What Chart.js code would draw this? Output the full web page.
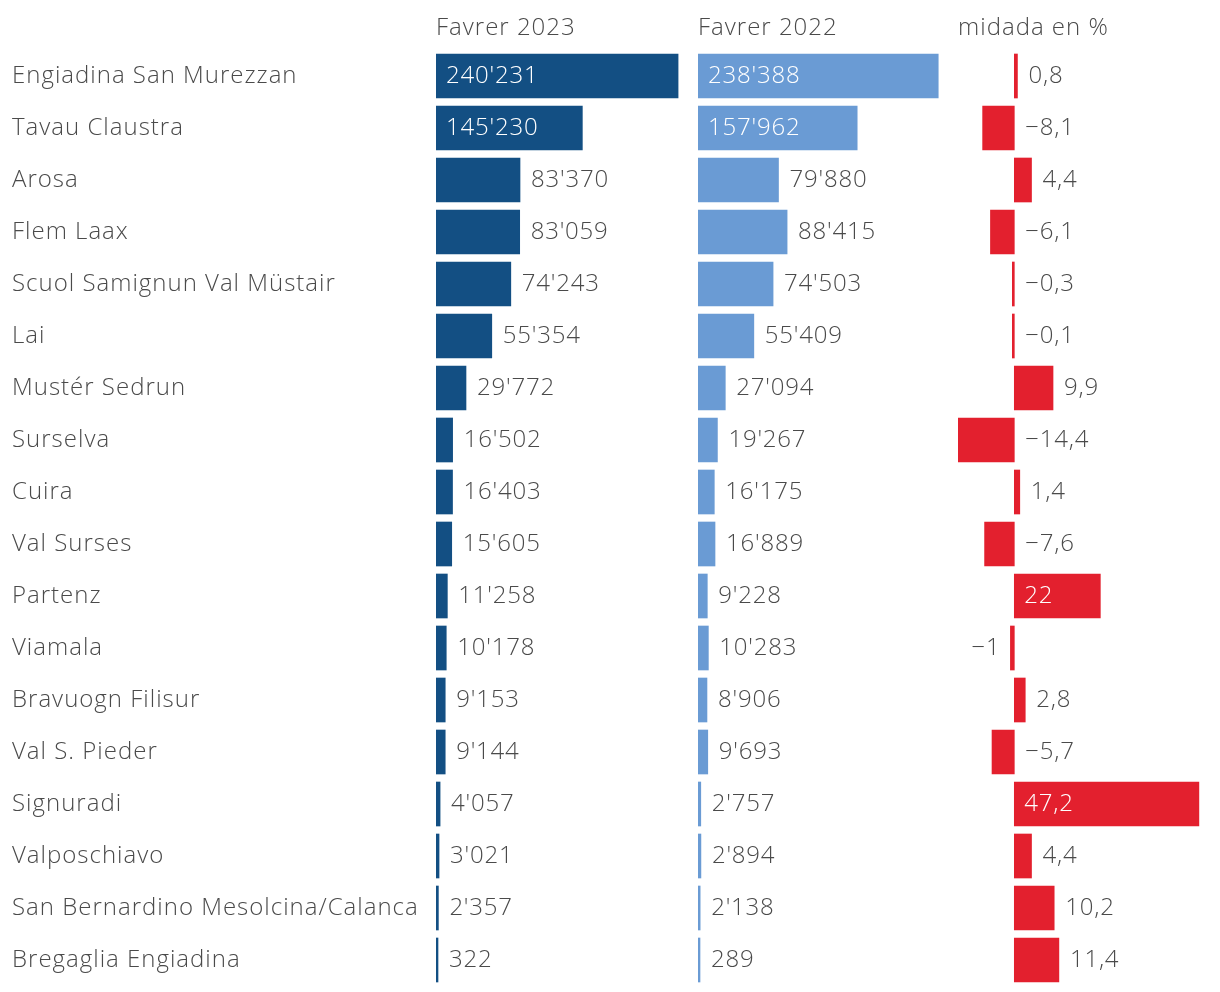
<!DOCTYPE html>
<html>
<head>
<meta charset="utf-8">
<script src="https://cdn.jsdelivr.net/npm/chart.js@4.4.1/dist/chart.umd.min.js"></script>
<style>
  html,body{margin:0;padding:0;background:#fff;}
  #wrap{position:relative;width:1220px;height:992px;}
</style>
</head>
<body>
<div id="wrap"><canvas id="c" width="1220" height="992"></canvas></div>
<script>
const regions = ["Engiadina San Murezzan","Tavau Claustra","Arosa","Flem Laax","Scuol Samignun Val Müstair","Lai","Mustér Sedrun","Surselva","Cuira","Val Surses","Partenz","Viamala","Bravuogn Filisur","Val S. Pieder","Signuradi","Valposchiavo","San Bernardino Mesolcina/Calanca","Bregaglia Engiadina"];
const feb2023 = [240231,145230,83370,83059,74243,55354,29772,16502,16403,15605,11258,10178,9153,9144,4057,3021,2357,322];
const feb2022 = [238388,157962,79880,88415,74503,55409,27094,19267,16175,16889,9228,10283,8906,9693,2757,2894,2138,289];
const changePct = [0.8,-8.1,4.4,-6.1,-0.3,-0.1,9.9,-14.4,1.4,-7.6,22,-1,2.8,-5.7,47.2,4.4,10.2,11.4];
const headers = ["Favrer 2023","Favrer 2022","midada en %"];
const labelLeftOfBar = ["Viamala"];

const FONT = "'Open Sans'";
const WEIGHT = "300";
const TXT = "#4a4a4a";

function fmtInt(v){ return String(v).replace(/\B(?=(\d{3})+(?!\d))/g, "'"); }
function fmtPct(v){
  const s = Number.isInteger(v) ? String(Math.abs(v)) : Math.abs(v).toFixed(1).replace('.', ',');
  return (v < 0 ? '\u2212' : '') + s;
}

const spacingPlugin = {
  id: 'spacing',
  beforeDraw(chart){ chart.ctx.letterSpacing = '1px'; }
};

const labelPlugin = {
  id: 'labels',
  afterDatasetsDraw(chart){
    const ctx = chart.ctx;
    ctx.save();
    ctx.letterSpacing = '0.8px';
    ctx.font = WEIGHT + " 24px " + FONT;
    ctx.textBaseline = 'middle';
    chart.data.datasets.forEach((ds, di) => {
      const meta = chart.getDatasetMeta(di);
      meta.data.forEach((bar, i) => {
        const v = ds.data[i];
        const txt = di === 2 ? fmtPct(v) : fmtInt(v);
        const tw = ctx.measureText(txt).width;
        const left = Math.min(bar.x, bar.base), right = Math.max(bar.x, bar.base);
        const w = right - left;
        const y = bar.y;
        if (v > 0 && tw + 20 <= w) {
          ctx.fillStyle = '#ffffff';
          ctx.textAlign = 'left';
          ctx.fillText(txt, left + 10, y);
        } else if (v < 0 && labelLeftOfBar.includes(regions[i])) {
          ctx.fillStyle = TXT;
          ctx.textAlign = 'right';
          ctx.fillText(txt, left - 10, y);
        } else {
          ctx.fillStyle = TXT;
          ctx.textAlign = 'left';
          ctx.fillText(txt, (v < 0 ? bar.base : right) + 11, y);
        }
      });
    });
    ctx.letterSpacing = '1px';
    ['x1','x2','x3'].forEach((id, k) => {
      const sc = chart.scales[id];
      ctx.fillStyle = TXT;
      ctx.textAlign = 'left';
      ctx.fillText(headers[k], sc.left, 28);
    });
    ctx.restore();
  }
};

new Chart(document.getElementById('c'), {
  type: 'bar',
  data: {
    labels: regions,
    datasets: [
      {data: feb2023, xAxisID: 'x1', backgroundColor: '#134f83'},
      {data: feb2022, xAxisID: 'x2', backgroundColor: '#6a9bd4'},
      {data: changePct, xAxisID: 'x3', backgroundColor: '#e3202e'}
    ]
  },
  options: {
    indexAxis: 'y',
    responsive: false,
    animation: false,
    devicePixelRatio: 1,
    layout: {padding: {left: 12, top: 50, right: 0, bottom: 6}},
    datasets: {bar: {grouped: false, barThickness: 44, minBarLength: 2, borderWidth: 0}},
    plugins: {legend: {display: false}, tooltip: {enabled: false}},
    scales: {
      y: {
        position: 'left',
        grid: {display: false},
        border: {display: false},
        ticks: {font: {family: FONT, size: 24, weight: WEIGHT}, color: TXT, crossAlign: 'far', padding: 0},
        afterFit(scale){ scale.width = 424; scale.paddingTop = 0; scale.paddingBottom = 0; }
      },
      x1: {type: 'linear', position: 'bottom', stack: 'cols', stackWeight: 262, min: 0, max: 260000, display: false, grid: {display: false}},
      x2: {type: 'linear', position: 'bottom', stack: 'cols', stackWeight: 260, min: 0, max: 258000, display: false, grid: {display: false}},
      x3: {type: 'linear', position: 'bottom', stack: 'cols', stackWeight: 262, min: -14.4, max: 52.6, display: false, grid: {display: false}}
    }
  },
  plugins: [spacingPlugin, labelPlugin]
});
</script>
</body>
</html>
